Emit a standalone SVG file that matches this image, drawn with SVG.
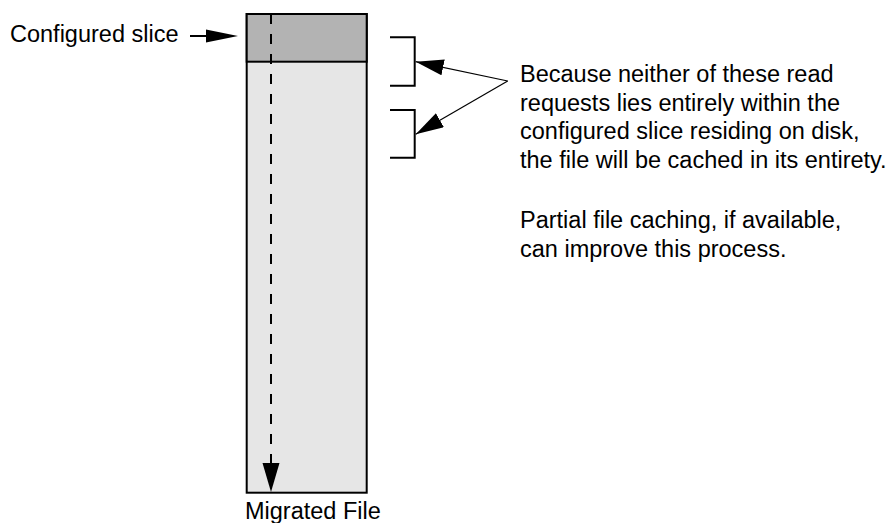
<svg xmlns="http://www.w3.org/2000/svg" width="893" height="523" viewBox="0 0 893 523">
<style>
text{font-family:"Liberation Sans",Arial,Helvetica,sans-serif;font-size:23.5px;fill:#000}
.box{stroke:#000;stroke-width:2}
.br{fill:none;stroke:#000;stroke-width:2}
.thin{fill:none;stroke:#000;stroke-width:1.2}
</style>
<defs>
<marker id="head" markerUnits="userSpaceOnUse" markerWidth="30" markerHeight="18" refX="28" refY="8" orient="auto">
<polygon points="0,0 28,8 0,16" fill="#000"/>
</marker>
</defs>
<g id="file">
<rect class="box" x="246.7" y="14" width="120" height="478.7" fill="#e6e6e6"/>
<rect class="box" x="246.7" y="14" width="120" height="47.7" fill="#b3b3b3"/>
<text x="245" y="519">Migrated File</text>
</g>
<g id="slice-label">
<text x="10" y="42">Configured slice</text>
</g>
<g id="brackets">
<polyline class="br" points="390,37.3 414.7,37.3 414.7,85.7 390,85.7"/>
<polyline class="br" points="390,110 414.7,110 414.7,157.7 390,157.7"/>
</g>
<g id="note">
<text x="520" y="82">Because neither of these read</text>
<text x="520" y="110.5">requests lies entirely within the</text>
<text x="520" y="139">configured slice residing on disk,</text>
<text x="520" y="167.5">the file will be cached in its entirety.</text>
<text x="520" y="228">Partial file caching, if available,</text>
<text x="520" y="257">can improve this process.</text>
</g>
<g id="connectors">
<line x1="190" y1="36" x2="207" y2="36" stroke="#000" stroke-width="2"/>
<polygon points="206,29.5 238,36 206,42.5" fill="#000"/>
<line x1="271" y1="14" x2="271" y2="464" stroke="#000" stroke-width="2" stroke-dasharray="10 10"/>
<polygon points="262.5,463 279.5,463 271,492" fill="#000"/>
<line class="thin" x1="507.7" y1="81" x2="415.7" y2="61.7" marker-end="url(#head)"/>
<line class="thin" x1="507.7" y1="81" x2="415.7" y2="134.3" marker-end="url(#head)"/>
</g>
</svg>
